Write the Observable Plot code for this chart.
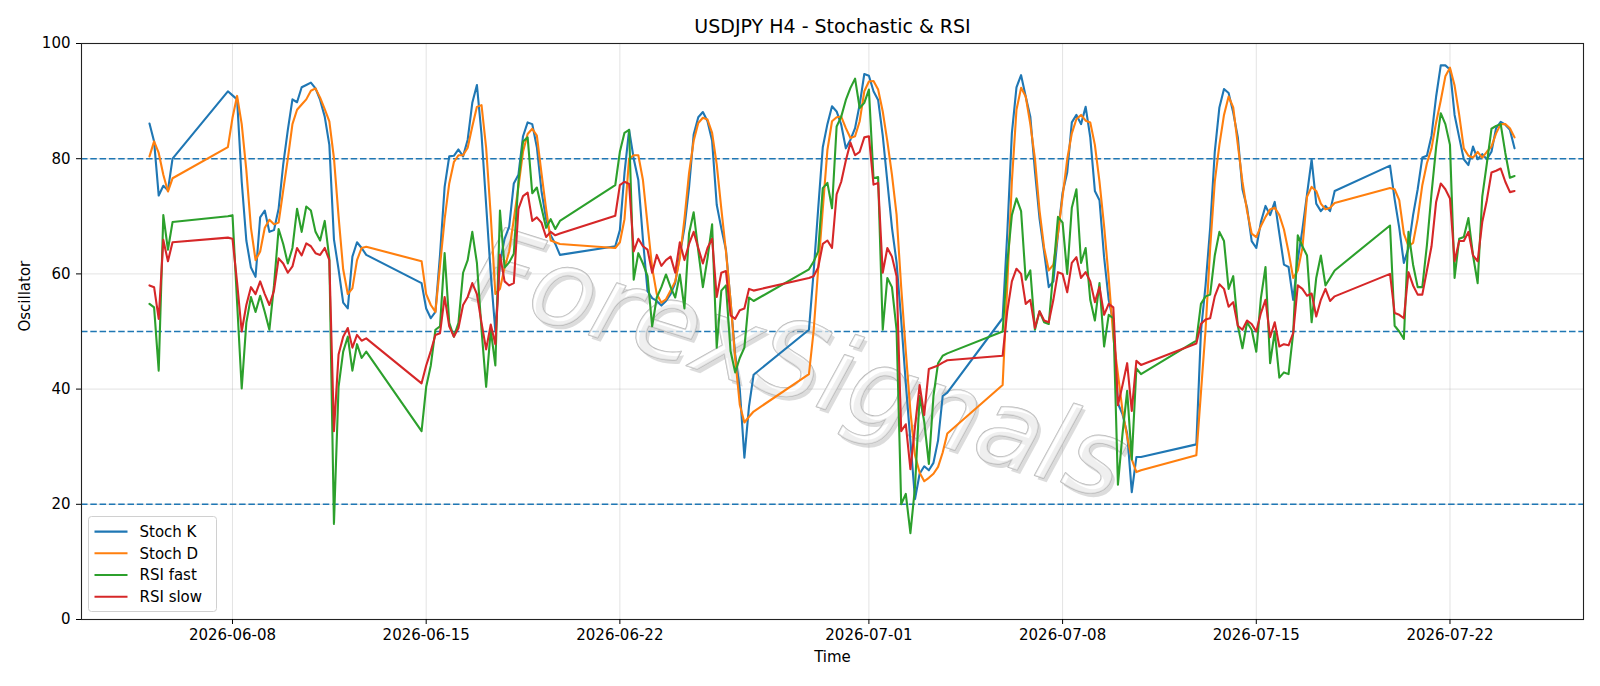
<!DOCTYPE html>
<html><head><meta charset="utf-8">
<script src="https://cdn.jsdelivr.net/npm/d3@7"></script>
<script src="https://cdn.jsdelivr.net/npm/@observablehq/plot@0.6"></script>
<style>body{margin:0;background:#fff;} svg{display:block}</style>
</head><body><div id="chart"></div>
<script>
const H6 = [0, 4, 8, 12, 16, 20];
const sessions = [
  ["2026-06-05", H6], ["2026-06-07", [20]],
  ["2026-06-08", H6], ["2026-06-09", H6], ["2026-06-10", H6], ["2026-06-11", H6], ["2026-06-12", H6],
  ["2026-06-14", [20]],
  ["2026-06-15", H6], ["2026-06-16", H6], ["2026-06-17", H6], ["2026-06-18", H6], ["2026-06-19", H6],
  ["2026-06-21", [20]],
  ["2026-06-22", H6], ["2026-06-23", H6], ["2026-06-24", H6], ["2026-06-25", H6], ["2026-06-26", H6],
  ["2026-06-28", [20]],
  ["2026-06-29", H6], ["2026-06-30", H6], ["2026-07-01", H6], ["2026-07-02", H6], ["2026-07-03", H6],
  ["2026-07-05", [20]],
  ["2026-07-06", H6], ["2026-07-07", H6], ["2026-07-08", H6], ["2026-07-09", H6], ["2026-07-10", H6],
  ["2026-07-12", [20]],
  ["2026-07-13", H6], ["2026-07-14", H6], ["2026-07-15", H6], ["2026-07-16", H6], ["2026-07-17", H6],
  ["2026-07-19", [20]],
  ["2026-07-20", H6], ["2026-07-21", H6], ["2026-07-22", H6], ["2026-07-23", H6], ["2026-07-24", [0, 4, 8]]
];

const stochK = [
  86.1, 83.0, 73.6, 75.3, 74.5, 80.0,
  91.7, 91.0, 90.3, 76.0, 65.8, 61.1, 59.5, 69.8, 71.0, 67.3, 67.6, 71.3, 79.0, 85.0, 90.3, 89.8, 92.4, 92.8, 93.2, 92.2, 90.2, 87.3, 82.4, 66.0, 60.8, 55.0, 54.0, 63.0, 65.5, 64.5, 63.3,
  58.4, 54.0, 52.3, 53.4, 63.3, 75.1, 80.4, 80.5, 81.6, 80.4, 83.3, 89.7, 92.8, 84.2, 72.0, 60.0, 50.0, 62.0, 66.1, 68.2, 75.7, 77.2, 83.9, 86.3, 86.0, 82.0, 74.4, 69.5, 66.7, 65.2, 63.3,
  64.8, 67.6, 77.5, 85.0, 80.0, 76.3, 66.0, 57.0, 55.8, 55.3, 54.5, 55.3, 56.5, 58.4, 63.3, 68.0, 75.0, 84.2, 87.2, 88.1, 86.5, 83.1, 72.0, 67.9, 64.2, 55.3, 46.0, 40.0, 28.1, 37.0, 42.5,
  50.3, 60.2, 71.3, 82.0, 86.0, 89.1, 88.2, 85.9, 81.8, 83.3, 85.3, 89.4, 94.7, 94.4, 91.7, 90.2, 84.0, 76.0, 68.0, 62.0, 52.0, 41.0, 31.0, 20.9, 25.3, 26.6, 25.9, 27.2, 31.1, 38.8, 39.4,
  52.3, 67.0, 84.4, 92.4, 94.5, 90.8, 87.3, 77.9, 69.6, 63.8, 57.7, 58.7, 67.0, 74.1, 77.6, 86.3, 87.6, 86.0, 89.0, 83.7, 74.4, 72.8, 62.9, 55.5, 51.6, 37.5, 35.6, 32.3, 22.1, 28.2, 28.2,
  30.4, 50.0, 58.0, 68.0, 81.2, 88.9, 92.1, 91.4, 88.0, 83.7, 74.7, 71.5, 65.7, 64.5, 69.0, 71.8, 70.2, 72.5, 67.0, 61.6, 61.2, 55.5, 62.5, 67.7, 73.8, 79.9, 72.2, 70.9, 71.8, 70.9, 74.4,
  78.8, 73.0, 68.0, 61.9, 64.5, 70.2, 74.7, 80.2, 80.5, 84.0, 90.8, 96.2, 96.2, 95.5, 87.6, 83.7, 79.9, 78.9, 82.1, 79.9, 80.8, 79.9, 81.2, 85.3, 86.4, 85.9, 85.0, 81.8
];
const stochD = [
  80.4, 83.0, 81.0, 77.2, 74.3, 76.6,
  82.0, 87.1, 90.9, 86.0, 78.0, 68.0, 62.4, 63.9, 68.0, 69.4, 68.6, 68.9, 74.5, 80.0, 86.0, 88.5, 89.4, 90.3, 91.8, 92.2, 90.6, 88.6, 86.5, 80.1, 70.0, 60.8, 56.5, 57.5, 62.4, 64.5, 64.7,
  62.2, 56.5, 54.6, 53.4, 61.4, 69.5, 75.7, 79.4, 80.6, 80.6, 81.9, 85.6, 89.0, 89.3, 81.9, 70.1, 56.5, 57.4, 61.1, 63.9, 69.5, 75.1, 81.2, 84.3, 85.2, 84.0, 77.5, 71.3, 65.8, 65.5, 65.2,
  64.5, 65.5, 69.5, 80.0, 80.6, 80.6, 76.3, 68.6, 61.1, 56.5, 55.0, 55.6, 57.1, 58.7, 62.7, 69.5, 77.5, 83.1, 86.2, 87.1, 86.8, 84.5, 79.0, 71.3, 63.9, 55.3, 45.4, 37.3, 34.2, 35.2, 36.1,
  42.6, 50.0, 60.8, 71.3, 81.5, 86.5, 87.2, 87.3, 85.3, 83.6, 83.9, 86.5, 91.7, 93.4, 93.5, 92.0, 88.2, 83.0, 77.2, 70.3, 57.7, 46.6, 36.1, 28.5, 25.5, 24.0, 24.6, 25.3, 26.5, 29.0, 32.3,
  40.7, 58.0, 76.0, 88.5, 92.3, 90.8, 86.0, 80.0, 71.0, 64.5, 60.6, 61.6, 67.0, 73.4, 79.9, 84.4, 86.9, 87.6, 86.6, 86.3, 82.4, 76.0, 68.3, 59.3, 49.0, 42.6, 36.2, 31.7, 27.8, 25.6, 25.9,
  28.5, 39.4, 50.3, 64.5, 76.0, 82.4, 87.6, 90.8, 88.9, 82.4, 76.0, 70.9, 67.0, 66.4, 68.3, 69.9, 71.2, 71.5, 70.2, 67.7, 63.8, 59.3, 60.6, 64.5, 73.4, 75.1, 74.4, 72.2, 71.2, 71.5, 72.3,
  74.9, 74.7, 72.8, 67.0, 64.8, 65.4, 69.6, 75.4, 79.2, 81.8, 86.3, 90.1, 94.3, 95.8, 92.7, 87.6, 81.8, 80.5, 80.2, 81.2, 80.2, 81.2, 82.1, 84.4, 86.0, 86.0, 85.3, 83.7
];
const rsiFast = [
  54.8, 54.2, 43.2, 70.2, 64.2, 69.0,
  70.0, 70.2, 55.0, 40.1, 51.5, 56.0, 53.4, 56.2, 53.4, 50.3, 58.0, 67.8, 65.2, 61.8, 64.5, 71.3, 67.3, 71.7, 71.0, 67.3, 65.8, 69.2, 62.7, 16.6, 40.4, 46.5, 49.1, 43.2, 47.8, 45.4, 46.5,
  32.7, 40.4, 44.1, 50.3, 50.9, 63.6, 51.5, 49.1, 51.5, 60.2, 62.4, 67.3, 61.9, 50.3, 40.4, 50.3, 44.1, 71.0, 61.1, 62.0, 63.5, 76.0, 83.0, 83.7, 74.0, 75.0, 71.5, 68.0, 69.5, 67.8, 69.2,
  75.4, 81.2, 84.5, 85.0, 59.0, 63.6, 61.8, 59.6, 50.9, 55.9, 57.7, 59.9, 57.7, 55.9, 59.9, 54.0, 67.0, 70.7, 64.0, 57.7, 62.7, 68.6, 47.2, 57.1, 58.0, 46.6, 42.9, 45.4, 47.2, 55.9, 55.3,
  60.8, 62.1, 63.9, 74.9, 75.8, 71.4, 85.6, 87.3, 90.2, 92.3, 93.9, 88.8, 89.7, 92.0, 76.6, 76.8, 50.3, 59.3, 57.7, 50.3, 20.0, 21.8, 15.0, 23.0, 38.8, 34.3, 27.0, 38.8, 44.5, 45.8, 46.2,
  50.0, 61.9, 70.2, 73.1, 70.9, 59.0, 60.6, 50.3, 53.5, 51.6, 51.3, 60.6, 69.9, 68.9, 60.0, 71.5, 74.7, 61.9, 64.5, 55.5, 51.9, 58.4, 47.4, 52.9, 52.3, 23.4, 32.3, 39.7, 27.8, 43.6, 42.6,
  48.4, 54.8, 56.1, 56.4, 63.2, 67.3, 65.7, 57.4, 59.6, 51.0, 47.1, 51.6, 50.3, 46.5, 55.8, 61.2, 44.5, 50.0, 42.0, 42.9, 42.6, 49.7, 66.7, 64.8, 63.2, 51.6, 59.3, 63.2, 58.0, 59.3, 60.6,
  68.4, 51.0, 50.0, 48.7, 67.3, 61.6, 57.7, 57.7, 65.0, 74.0, 82.0, 87.9, 86.0, 82.4, 59.3, 66.1, 66.4, 69.7, 63.2, 58.4, 73.4, 79.2, 85.2, 85.7, 86.0, 81.0, 76.7, 77.0
];
const rsiSlow = [
  58.0, 57.7, 52.2, 65.9, 62.2, 65.5,
  66.3, 66.1, 58.5, 50.0, 54.6, 57.7, 56.5, 58.7, 56.5, 54.6, 57.1, 62.7, 61.8, 60.2, 61.3, 64.5, 63.2, 65.3, 64.8, 63.6, 63.3, 64.5, 62.4, 32.7, 46.0, 49.1, 50.6, 47.2, 49.4, 48.4, 48.8,
  41.0, 44.1, 46.6, 49.4, 49.7, 56.0, 50.9, 49.1, 50.6, 54.6, 56.0, 58.4, 56.5, 51.5, 46.9, 51.2, 47.8, 63.3, 58.7, 58.0, 58.4, 71.3, 73.5, 74.1, 69.2, 69.8, 68.9, 66.4, 67.3, 66.7, 67.0,
  70.1, 75.4, 76.0, 75.6, 63.9, 66.1, 64.8, 64.2, 60.2, 63.3, 61.4, 62.4, 63.0, 60.2, 65.5, 62.4, 65.2, 67.3, 64.5, 61.8, 64.5, 66.1, 56.0, 60.2, 60.5, 52.8, 52.2, 53.7, 54.0, 57.4, 57.1,
  59.3, 59.6, 61.1, 65.2, 65.8, 64.5, 73.8, 76.0, 79.7, 82.8, 80.6, 81.2, 83.7, 83.9, 75.5, 75.8, 60.2, 64.5, 63.0, 59.6, 32.7, 33.9, 26.1, 33.5, 40.7, 35.5, 43.5, 43.8, 44.1, 44.6, 45.0,
  45.8, 53.5, 58.7, 60.9, 60.0, 54.8, 55.5, 50.6, 53.5, 51.9, 51.6, 55.5, 60.3, 60.0, 56.8, 61.9, 62.9, 59.3, 60.3, 58.7, 55.1, 57.7, 52.9, 54.8, 54.2, 37.2, 40.7, 44.5, 36.2, 44.9, 44.2,
  47.9, 51.3, 52.1, 52.3, 56.1, 58.2, 57.4, 54.3, 55.1, 51.0, 50.3, 51.9, 51.3, 50.0, 53.2, 55.5, 49.0, 51.6, 47.4, 47.8, 47.6, 49.7, 58.0, 57.4, 56.2, 56.6, 52.6, 55.5, 57.4, 55.3, 56.1,
  60.0, 53.2, 52.9, 52.3, 60.3, 58.0, 56.4, 56.4, 60.6, 64.8, 72.5, 75.7, 74.7, 73.1, 62.2, 65.7, 65.7, 67.3, 63.2, 62.2, 69.0, 72.8, 77.6, 77.9, 78.3, 76.0, 74.2, 74.4
];

const seriesNames = ["Stoch K", "Stoch D", "RSI fast", "RSI slow"];
const seriesColors = ["#1f77b4", "#ff7f0e", "#2ca02c", "#d62728"];
const levels = [80, 50, 20];
const xTickLabels = ["2026-06-08", "2026-06-15", "2026-06-22", "2026-07-01", "2026-07-08", "2026-07-15", "2026-07-22"];
const yTicks = [0, 20, 40, 60, 80, 100];
const titleText = "USDJPY H4 - Stochastic & RSI";
const xLabel = "Time";
const yLabel = "Oscillator";
const watermarkText = "ForexSignals";

const times = sessions.flatMap(([d, hs]) => hs.map(h => new Date(`${d}T${String(h).padStart(2, "0")}:00:00Z`)));
const seriesValues = [stochK, stochD, rsiFast, rsiSlow];
const rows = [];
seriesNames.forEach((name, si) => {
  times.forEach((t, i) => rows.push({t, v: seriesValues[si][i], s: name}));
});
const xTicks = xTickLabels.map(s => new Date(s + "T00:00:00Z"));

const font = "DejaVu Sans, Verdana, sans-serif";
const wm = {frameAnchor: "middle", rotate: 17.5, fontSize: 106, fontStyle: "italic", lineAnchor: "middle"};
const chart = Plot.plot({
  width: 1600, height: 686,
  marginLeft: 81, marginRight: 17, marginTop: 43, marginBottom: 67,
  x: {type: "utc", domain: [new Date("2026-06-02T13:02:00Z"), new Date("2026-07-26T19:49:00Z")]},
  y: {domain: [0, 100]},
  color: {domain: seriesNames, range: seriesColors},
  style: {fontFamily: font, fontSize: "15px", background: "white", color: "black"},
  marks: [
    Plot.gridX(xTicks, {stroke: "#b0b0b0", strokeOpacity: 0.35, strokeWidth: 1}),
    Plot.gridY(yTicks, {stroke: "#b0b0b0", strokeOpacity: 0.35, strokeWidth: 1}),
    Plot.ruleY(levels, {stroke: "#1f77b4", strokeDasharray: "6.5,2.8", strokeWidth: 1.4}),
    Plot.text([watermarkText], {...wm, dx: -31, dy: 38, fill: "#9a9a9a", fillOpacity: 0.35}),
    Plot.text([watermarkText], {...wm, dx: -34, dy: 34, fill: "white", fillOpacity: 0.55, stroke: "#b8b8b8", strokeWidth: 1.4}),
    Plot.line(rows, {x: "t", y: "v", z: "s", stroke: "s", strokeWidth: 2.1}),
    Plot.frame({stroke: "#222", strokeWidth: 1.1}),
    Plot.axisX(xTicks, {tickFormat: d3.utcFormat("%Y-%m-%d"), tickSize: 5, tickPadding: 5, fontSize: 15, label: null}),
    Plot.axisY(yTicks, {tickSize: 5, tickPadding: 6, fontSize: 15, label: null}),
    Plot.text([titleText], {frameAnchor: "top", dy: -17, fontSize: 19, lineAnchor: "middle"}),
    Plot.text([xLabel], {frameAnchor: "bottom", dy: 38, fontSize: 15, lineAnchor: "middle"}),
    Plot.text([yLabel], {frameAnchor: "left", dx: -56, rotate: -90, fontSize: 15, lineAnchor: "middle"})
  ]
});
document.getElementById("chart").appendChild(chart);

// legend (box at lower left of frame)
const svg = d3.select(chart);
const lg = svg.append("g").attr("font-family", font).attr("font-size", 15).attr("text-anchor", "start");
lg.append("rect").attr("x", 88.5).attr("y", 516.5).attr("width", 128).attr("height", 95)
  .attr("rx", 3).attr("fill", "white").attr("fill-opacity", 0.8).attr("stroke", "#d0d0d0");
seriesNames.forEach((n, i) => {
  const cy = 531.6 + i * 21.7;
  lg.append("line").attr("x1", 94.5).attr("x2", 127.5).attr("y1", cy).attr("y2", cy)
    .attr("stroke", seriesColors[i]).attr("stroke-width", 2.1);
  lg.append("text").attr("x", 139.5).attr("y", cy).attr("dy", "0.35em").attr("fill", "black").text(n);
});
</script></body></html>
